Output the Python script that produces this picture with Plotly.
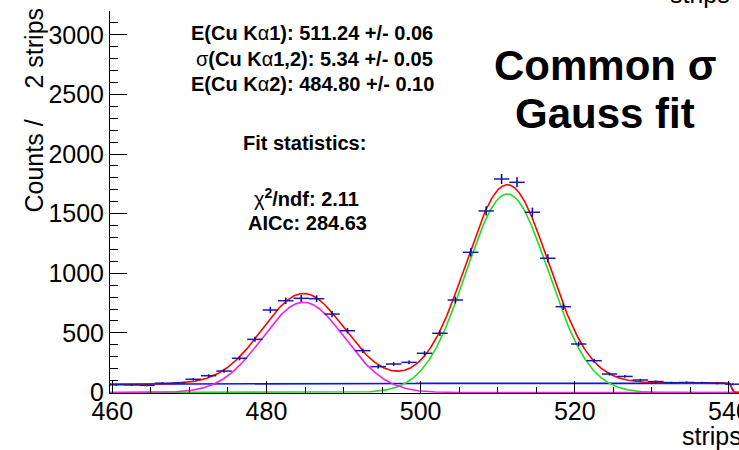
import numpy as np
import plotly.graph_objects as go

# ---------------- data ----------------
bin_centers = [460.5, 462.5, 464.5, 466.5, 468.5, 470.5, 472.5, 474.5, 476.5, 478.5,
               480.5, 482.5, 484.5, 486.5, 488.5, 490.5, 492.5, 494.5, 496.5, 498.5,
               500.5, 502.5, 504.5, 506.5, 508.5, 510.5, 512.5, 514.5, 516.5, 518.5,
               520.5, 522.5, 524.5, 526.5, 528.5, 530.5, 532.5, 534.5, 536.5, 538.5,
               540.5]
counts = [65, 63, 60, 78, 80, 111, 141, 180, 287, 446,
          692, 770, 790, 787, 658, 518, 351, 217, 239, 253,
          329, 497, 776, 1176, 1523, 1791, 1763, 1512, 1126, 720,
          407, 267, 155, 135, 105, 92, 82, 84, 82, 78,
          70]
bin_half_width = [1.0] * len(bin_centers)

# fit parameters
MEAN_KA1 = 511.24
MEAN_KA2 = 484.80
SIGMA = 5.34
AMP_KA1 = 1665.0
AMP_KA2 = 757.0
BKG_LEVEL = 70.0
BKG_SLOPE = 0.16
BKG_REF = 460.0
BKG_CUT = 540.35

# ---------------- geometry helpers ----------------
W, H = 739, 450
L, R, T, B = 110, 739, 11, 393
X_RANGE = [459.7, 541.3]
Y_RANGE = [-4, 3200]


def px(xp):
    return (xp - L) / (R - L)


def py(yp):
    return (B - yp) / (B - T)


# ---------------- fit curves ----------------
xc = np.linspace(X_RANGE[0], X_RANGE[1], 1500)
g1 = AMP_KA1 * np.exp(-0.5 * ((xc - MEAN_KA1) / SIGMA) ** 2)
g2 = AMP_KA2 * np.exp(-0.5 * ((xc - MEAN_KA2) / SIGMA) ** 2)
cut = 1.0 / (1.0 + np.exp((xc - BKG_CUT) / 0.12))
bkg = (BKG_LEVEL + BKG_SLOPE * (xc - BKG_REF)) * cut
total = g1 + g2 + bkg

fig = go.Figure()
fig.add_trace(go.Scatter(x=xc, y=bkg, mode="lines", line=dict(color="#1010f0", width=1.6),
                         hoverinfo="skip"))
fig.add_trace(go.Scatter(x=xc, y=g1, mode="lines", line=dict(color="#22dd22", width=1.6),
                         hoverinfo="skip"))
fig.add_trace(go.Scatter(x=xc, y=g2, mode="lines", line=dict(color="#ee22ee", width=1.6),
                         hoverinfo="skip"))
fig.add_trace(go.Scatter(x=xc, y=total, mode="lines", line=dict(color="#ff0000", width=1.6),
                         hoverinfo="skip"))
fig.add_trace(go.Scatter(
    x=bin_centers, y=counts, mode="markers",
    marker=dict(size=0.1, color="#00008f"),
    error_x=dict(type="data", array=bin_half_width, symmetric=True, width=0,
                 thickness=1.5, color="#1a1aa0"),
    error_y=dict(type="data", array=list(np.sqrt(counts)), symmetric=True, width=0,
                 thickness=1.5, color="#00008f"),
))

font_ticks = dict(family="Liberation Sans", size=25, color="black")

fig.update_layout(
    width=W, height=H,
    margin=dict(l=L, r=W - R, t=T, b=H - B, pad=0, autoexpand=False),
    paper_bgcolor="white", plot_bgcolor="white",
    showlegend=False,
    xaxis=dict(range=X_RANGE, showgrid=False, zeroline=False, automargin=False,
               showline=True, linecolor="black", linewidth=1,
               ticks="inside", ticklen=12, tickwidth=1.3, tickcolor="black",
               tick0=0, dtick=20, tickfont=font_ticks,
               ticklabeloverflow="allow", ticklabelstandoff=-4,
               minor=dict(ticks="inside", ticklen=6, tickwidth=1.2, tickcolor="black",
                          tick0=0, dtick=5, showgrid=False)),
    yaxis=dict(range=Y_RANGE, showgrid=False, zeroline=False, automargin=False,
               showline=True, linecolor="black", linewidth=1,
               ticks="inside", ticklen=17, tickwidth=1.3, tickcolor="black",
               tick0=0, dtick=500, tickfont=font_ticks,
               ticklabeloverflow="allow",
               minor=dict(ticks="inside", ticklen=8, tickwidth=1.2, tickcolor="black",
                          tick0=0, dtick=100, showgrid=False)),
)

ann = []
# axis titles
ann.append(dict(text="Counts /", textangle=-90, x=px(33), y=py(215), xref="paper", yref="paper",
                xanchor="center", yanchor="bottom", showarrow=False,
                font=dict(family="Liberation Sans", size=25, color="black")))
ann.append(dict(text="2 strips", textangle=-90, x=px(33), y=py(91), xref="paper", yref="paper",
                xanchor="center", yanchor="bottom", showarrow=False,
                font=dict(family="Liberation Sans", size=25, color="black")))
ann.append(dict(text="strips", x=px(680), y=py(436), xref="paper", yref="paper",
                xanchor="left", yanchor="middle", showarrow=False,
                font=dict(family="Liberation Sans", size=25, color="black")))
# fragment of the pad above
ann.append(dict(text="strips", x=px(668), y=py(-6), xref="paper", yref="paper",
                xanchor="left", yanchor="middle", showarrow=False,
                font=dict(family="Liberation Sans", size=25, color="black")))

stat_font = dict(family="Liberation Sans", size=20, color="black")
stat_lines = [
    ("<b>E(Cu K</b>α<b>1): 511.24 +/- 0.06</b>", 312, 33),
    ("σ<b>(Cu K</b>α<b>1,2): 5.34 +/- 0.05</b>", 314, 59),
    ("<b>E(Cu K</b>α<b>2): 484.80 +/- 0.10</b>", 312, 84),
    ("<b>Fit statistics:</b>", 304, 143),
    ("χ<b><sup>2</sup>/ndf: 2.11</b>", 306, 197),
    ("<b>AICc: 284.63</b>", 307, 223),
]
for txt, xp_, yp_ in stat_lines:
    ann.append(dict(text=txt, x=px(xp_), y=py(yp_), xref="paper", yref="paper",
                    xanchor="center", yanchor="middle", showarrow=False, font=stat_font))

big_font = dict(family="Liberation Sans", size=42, color="black")
ann.append(dict(text="<b>Common σ</b>", x=px(605), y=py(65), xref="paper", yref="paper",
                xanchor="center", yanchor="middle", showarrow=False, font=big_font))
ann.append(dict(text="<b>Gauss fit</b>", x=px(605), y=py(113), xref="paper", yref="paper",
                xanchor="center", yanchor="middle", showarrow=False, font=big_font))

fig.update_layout(annotations=ann)

fig.write_html("out.html", config=dict(displayModeBar=False))
